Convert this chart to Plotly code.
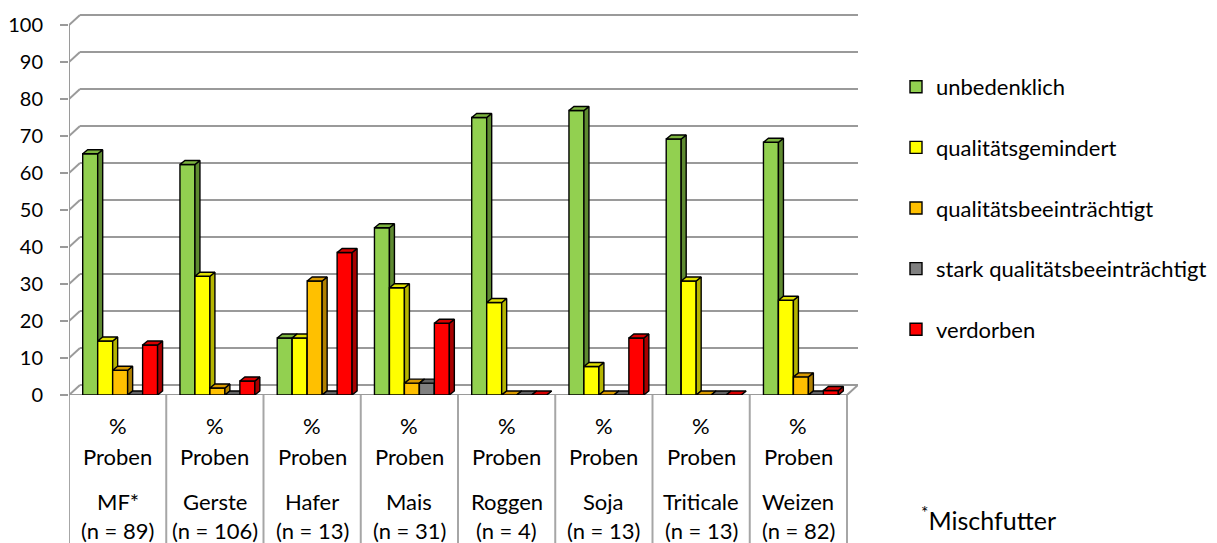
import plotly.graph_objects as go

# ---------------- data ----------------
categories = ["MF*", "Gerste", "Hafer", "Mais", "Roggen", "Soja", "Triticale", "Weizen"]
sample_counts = [89, 106, 13, 31, 4, 13, 13, 82]
row_unit = "%"
row_word = "Proben"

series_names = ["unbedenklich", "qualitätsgemindert", "qualitätsbeeinträchtigt",
                "stark qualitätsbeeinträchtigt", "verdorben"]
unbedenklich = [65.2, 62.3, 15.4, 45.2, 75.0, 76.9, 69.2, 68.3]
qualitaetsgemindert = [14.6, 32.1, 15.4, 29.0, 25.0, 7.7, 30.8, 25.6]
qualitaetsbeeintraechtigt = [6.7, 1.9, 30.8, 3.2, 0.0, 0.0, 0.0, 4.9]
stark_beeintraechtigt = [0.0, 0.0, 0.0, 3.2, 0.0, 0.0, 0.0, 0.0]
verdorben = [13.5, 3.8, 38.5, 19.4, 0.0, 15.4, 0.0, 1.2]
y_ticks = [0, 10, 20, 30, 40, 50, 60, 70, 80, 90, 100]

series_values = [unbedenklich, qualitaetsgemindert, qualitaetsbeeintraechtigt,
                 stark_beeintraechtigt, verdorben]
front_colors = ["#92D050", "#FFFF00", "#FFC000", "#808080", "#FF0000"]
top_colors = ["#7CB43E", "#E0E000", "#D99A00", "#636363", "#D80000"]
side_colors = ["#5E8A30", "#B5B500", "#B08000", "#4A4A4A", "#A80000"]

# ---------------- geometry (style) ----------------
FONT = "Lato"
PAGE_OFF = 8                       # default body margin of the html page
W, H = 1217 - PAGE_OFF, 543 - PAGE_OFF
L, T = 69 - PAGE_OFF, 10 - PAGE_OFF
R = W - (858 - PAGE_OFF)
B = H - (395 - PAGE_OFF)
plot_w = W - L - R
plot_h = H - T - B
n_cat = len(categories)
x_px = 97.25                      # px per category
y_px = 3.7                        # px per percent
x_range = [0, plot_w / x_px]
y_range = [0, plot_h / y_px]

bar_w = 0.154
group_left = 0.141
dx = 5 / x_px                     # bar depth
dy = 4 / y_px
wall_dx = 11 / x_px               # back wall offset
wall_dy = 10 / y_px
EDGE = 1.4


def px_x(px):                      # window pixel -> paper x
    return (px - PAGE_OFF - L) / plot_w


def px_y(px):                      # window pixel -> paper y
    return (H - B - (px - PAGE_OFF)) / plot_h


fig = go.Figure()

for j, (name, vals) in enumerate(zip(series_names, series_values)):
    k = "" if j == 0 else str(j + 1)
    xa, ya = "x" + k, "y" + k
    lefts = [i + group_left + j * bar_w for i in range(n_cat)]
    rights = [l + bar_w for l in lefts]
    sx, sy, tx, ty = [], [], [], []
    for l, r, v in zip(lefts, rights, vals):
        sx += [r, r + dx, r + dx, r, r, None]
        sy += [0, dy, v + dy, v, 0, None]
        tx += [l, r, r + dx, l + dx, l, None]
        ty += [v, v, v + dy, v + dy, v, None]
    fig.add_trace(go.Scatter(x=sx, y=sy, mode="lines", fill="toself",
                             fillcolor=side_colors[j], line=dict(color="black", width=EDGE),
                             showlegend=False, hoverinfo="skip", xaxis=xa, yaxis=ya))
    fig.add_trace(go.Scatter(x=tx, y=ty, mode="lines", fill="toself",
                             fillcolor=top_colors[j], line=dict(color="black", width=EDGE),
                             showlegend=False, hoverinfo="skip", xaxis=xa, yaxis=ya))
    fig.add_trace(go.Bar(x=[l + bar_w / 2 for l in lefts], y=vals, width=bar_w,
                         name=name, legendgroup=name,
                         marker=dict(color=front_colors[j],
                                     line=dict(color="black", width=EDGE)),
                         xaxis=xa, yaxis=ya))

layout_axes = {}
for j in range(1, len(series_names)):
    k = str(j + 1)
    layout_axes["xaxis" + k] = dict(overlaying="x", anchor="y" + k, range=x_range,
                                    visible=False, fixedrange=True)
    layout_axes["yaxis" + k] = dict(overlaying="y", anchor="x" + k, range=y_range,
                                    visible=False, fixedrange=True)

grid_col = "#9A9A9A"
shapes = []
for t in y_ticks:
    shapes.append(dict(type="line", xref="x", yref="y", x0=wall_dx, x1=n_cat + wall_dx,
                       y0=t + wall_dy, y1=t + wall_dy, line=dict(color=grid_col, width=2),
                       layer="below"))
    shapes.append(dict(type="line", xref="x", yref="y", x0=0, x1=wall_dx,
                       y0=t, y1=t + wall_dy, line=dict(color=grid_col, width=2),
                       layer="below"))
shapes.append(dict(type="line", xref="x", yref="y", x0=0, x1=0, y0=0, y1=y_ticks[-1],
                   line=dict(color=grid_col, width=2), layer="below"))
shapes.append(dict(type="line", xref="x", yref="y", x0=0, x1=n_cat, y0=0, y1=0,
                   line=dict(color=grid_col, width=2), layer="below"))
shapes.append(dict(type="line", xref="x", yref="y", x0=n_cat, x1=n_cat + wall_dx, y0=0,
                   y1=wall_dy, line=dict(color=grid_col, width=2), layer="below"))
for i in range(n_cat + 1):
    shapes.append(dict(type="line", xref="x", yref="paper", x0=i, x1=i, y0=0,
                       y1=-(B + 5) / plot_h, line=dict(color="#A6A6A6", width=2)))

annotations = []
for i, (c, n) in enumerate(zip(categories, sample_counts)):
    for txt, ypx in [(row_unit, 425.5), (row_word, 456), (c, 501.5), (f"(n = {n})", 530)]:
        annotations.append(dict(text=txt, xref="x", yref="paper", x=i + 0.5, y=px_y(ypx),
                                xanchor="center", yanchor="middle", showarrow=False,
                                font=dict(family=FONT, size=22, color="black")))
annotations.append(dict(text="<sup>*</sup>Mischfutter", xref="paper", yref="paper",
                        x=px_x(919), y=px_y(518), xanchor="left", yanchor="middle",
                        showarrow=False, font=dict(family=FONT, size=25, color="black")))

fig.update_layout(
    width=W, height=H,
    margin=dict(l=L, r=R, t=T, b=B, autoexpand=False),
    paper_bgcolor="white", plot_bgcolor="rgba(0,0,0,0)",
    font=dict(family=FONT, size=20, color="black"),
    barmode="overlay",
    showlegend=True,
    legend=dict(x=px_x(896), xanchor="left", y=px_y(66), yanchor="top",
                traceorder="grouped", tracegroupgap=29,
                font=dict(family=FONT, size=22, color="black"),
                bgcolor="rgba(0,0,0,0)"),
    xaxis=dict(range=x_range, visible=False, fixedrange=True),
    yaxis=dict(range=y_range, tickvals=y_ticks, ticks="outside", ticklen=8, tickwidth=2,
               tickcolor=grid_col, showgrid=False, zeroline=False, showline=False,
               ticklabelstandoff=13, tickfont=dict(family=FONT, size=20, color="black"),
               fixedrange=True),
    shapes=shapes,
    annotations=annotations,
    **layout_axes,
)

fig.write_html("out.html")
